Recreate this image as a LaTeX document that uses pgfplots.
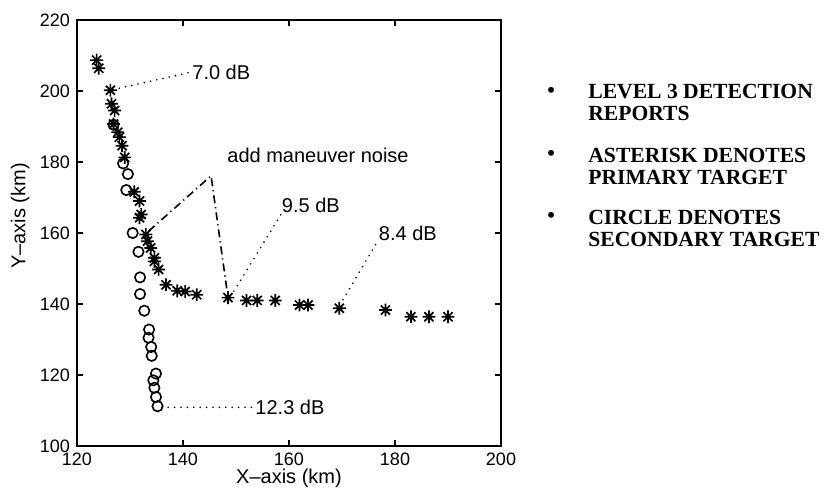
\documentclass[border=0pt]{standalone}
\usepackage{fontspec}
\setmainfont{Liberation Sans}
\newfontfamily\tnr{Liberation Serif}
\usepackage{pgfplots}
\pgfplotsset{compat=1.18}

% MATLAB-style asterisk: eight arms
\pgfdeclareplotmark{mstar}{%
  \pgfpathmoveto{\pgfqpoint{-\pgfplotmarksize}{0pt}}%
  \pgfpathlineto{\pgfqpoint{\pgfplotmarksize}{0pt}}%
  \pgfpathmoveto{\pgfqpoint{0pt}{-\pgfplotmarksize}}%
  \pgfpathlineto{\pgfqpoint{0pt}{\pgfplotmarksize}}%
  \pgfpathmoveto{\pgfqpoint{-0.707\pgfplotmarksize}{-0.707\pgfplotmarksize}}%
  \pgfpathlineto{\pgfqpoint{0.707\pgfplotmarksize}{0.707\pgfplotmarksize}}%
  \pgfpathmoveto{\pgfqpoint{-0.707\pgfplotmarksize}{0.707\pgfplotmarksize}}%
  \pgfpathlineto{\pgfqpoint{0.707\pgfplotmarksize}{-0.707\pgfplotmarksize}}%
  \pgfusepathqstroke}

\begin{document}
\begin{tikzpicture}
\begin{axis}[
    name=ax,
    scale only axis,
    width=212pt, height=213pt,
    xmin=120, xmax=200, ymin=100, ymax=220,
    xtick={120,140,...,200}, ytick={100,120,...,220},
    tick align=inside, major tick length=3pt,
    axis line style={line width=0.8pt},
    every tick/.style={black, line width=0.7pt},
    /pgf/number format/assume math mode=true,
    ticklabel style={font=\fontsize{9}{10}\selectfont},
    label style={font=\fontsize{10}{11}\selectfont},
    xlabel={X–axis (km)}, ylabel={Y–axis (km)},
    xlabel style={at={(axis description cs:0.5,0)}, anchor=center, yshift=-16pt},
    ylabel style={at={(axis description cs:-0.134,0.54)}, anchor=center},
    clip=false,
  ]
  % primary target (asterisks)
  \addplot[only marks, mark=mstar, mark size=3.2pt, mark options={line width=0.85pt}] coordinates {
    (123.7,208.7) (124.1,206.4) (126.3,200.2) (126.5,196.4) (127.1,194.5)
    (126.9,190.7) (127.7,188.4) (128.0,187.0) (128.5,184.6) (129.0,181.3)
    (130.8,171.6) (131.8,169.0) (132.1,165.2) (131.8,164.3) (133.0,159.6)
    (133.3,157.7) (133.9,155.8) (134.6,153.0) (134.6,152.0) (135.4,149.7)
    (136.8,145.4) (138.9,143.7) (140.4,143.5) (142.6,142.6) (148.5,141.8)
    (152.0,141.0) (154.0,141.0) (157.4,141.0) (162.0,139.7) (163.6,139.7)
    (169.5,138.8) (178.2,138.3) (183.0,136.4) (186.4,136.4) (190.0,136.4)
  };
  % secondary target (circles)
  \addplot[only marks, mark=o, mark size=2.6pt, mark options={line width=0.8pt}] coordinates {
    (126.9,190.5) (128.7,179.6) (129.6,176.6) (129.3,172.1) (130.5,160.0)
    (131.6,154.7) (131.9,147.5) (131.9,142.8) (132.7,138.1) (133.6,132.8)
    (133.5,130.5) (134.0,127.9) (134.1,125.4) (134.9,120.4) (134.4,118.5)
    (134.6,116.4) (134.9,113.8) (135.2,111.2)
  };
  % annotation leaders
  \addplot[line width=0.9pt, line cap=round, dash pattern=on 0pt off 3.2pt] coordinates {(126.8,200.4) (141.5,205.3)};
  \addplot[line width=0.9pt, line cap=round, dash pattern=on 0pt off 3.2pt] coordinates {(149.6,143.6) (158.6,165.5)};
  \addplot[line width=0.9pt, line cap=round, dash pattern=on 0pt off 3.2pt] coordinates {(170.2,141.2) (176.6,157.4)};
  \addplot[line width=0.9pt, line cap=round, dash pattern=on 0pt off 3.2pt] coordinates {(136.0,110.9) (153.3,110.9)};
  \addplot[line width=0.8pt, dash pattern=on 4pt off 2pt on 0.6pt off 2pt] coordinates {(133.5,160.5) (145.3,176.1) (148.3,143.8)};
  \node[anchor=west, inner sep=0pt, font=\fontsize{10}{11}\selectfont] at (axis cs:141.7,205.3) {7.0 dB};
  \node[anchor=west, inner sep=0pt, font=\fontsize{10}{11}\selectfont] at (axis cs:158.6,167.8) {9.5 dB};
  \node[anchor=west, inner sep=0pt, font=\fontsize{10}{11}\selectfont] at (axis cs:176.9,160.0) {8.4 dB};
  \node[anchor=west, inner sep=0pt, font=\fontsize{10}{11}\selectfont] at (axis cs:153.6,110.9) {12.3 dB};
  \node[anchor=west, inner sep=0pt, font=\fontsize{10}{11}\selectfont] at (axis cs:148.3,181.8) {add maneuver noise};
\end{axis}
% side notes
\begin{scope}[every node/.style={anchor=west, inner sep=0pt, font=\tnr\bfseries\fontsize{10.8}{12}\selectfont}]
  \node at ([shift={(235pt,177pt)}]ax.south west) {•};
  \node at ([shift={(255.5pt,177pt)}]ax.south west) {LEVEL 3 DETECTION};
  \node at ([shift={(255.5pt,166.5pt)}]ax.south west) {REPORTS};
  \node at ([shift={(235pt,145.5pt)}]ax.south west) {•};
  \node at ([shift={(255.5pt,145.5pt)}]ax.south west) {ASTERISK DENOTES};
  \node at ([shift={(255.5pt,134.5pt)}]ax.south west) {PRIMARY TARGET};
  \node at ([shift={(235pt,114.5pt)}]ax.south west) {•};
  \node at ([shift={(255.5pt,114.5pt)}]ax.south west) {CIRCLE DENOTES};
  \node at ([shift={(255.5pt,103.5pt)}]ax.south west) {SECONDARY TARGET};
\end{scope}
\pgfresetboundingbox
\path[use as bounding box] ([shift={(-38.5pt,-23pt)}]ax.south west) rectangle ([shift={(374.5pt,223pt)}]ax.south west);
\end{tikzpicture}
\end{document}
